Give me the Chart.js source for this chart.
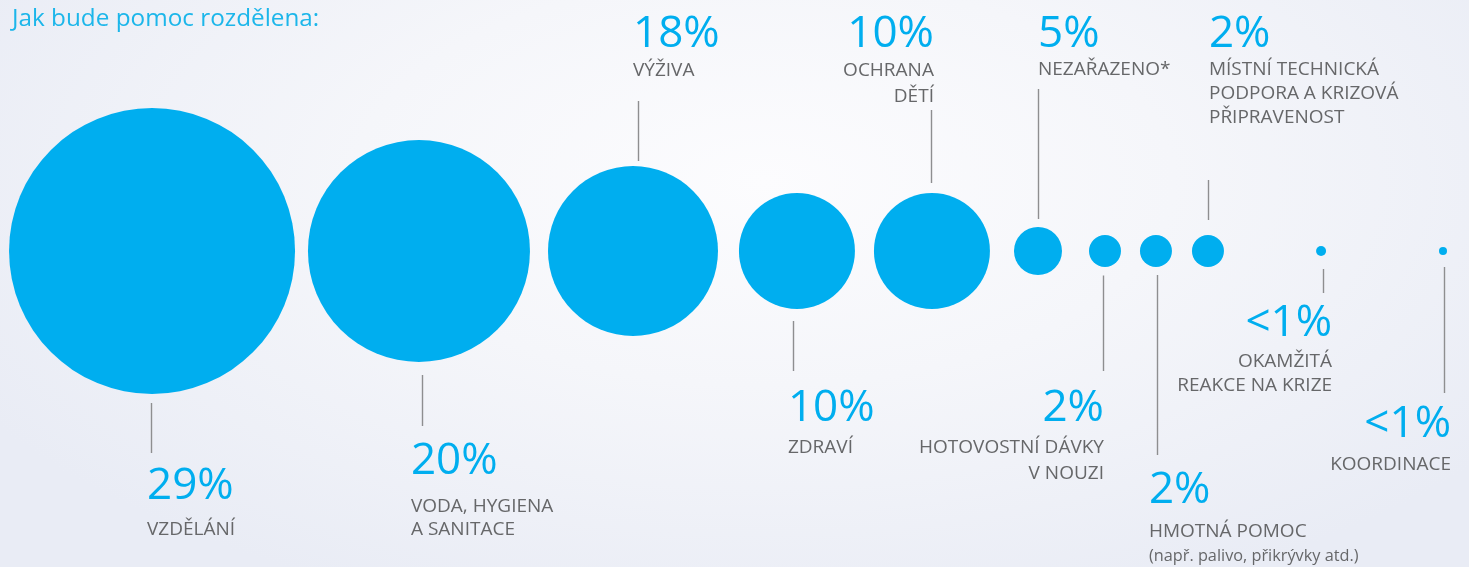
<!DOCTYPE html>
<html lang="cs">
<head>
<meta charset="utf-8">
<title>Jak bude pomoc rozdělena</title>
<script src="https://cdn.jsdelivr.net/npm/chart.js@4.4.1/dist/chart.umd.min.js"></script>
<style>
  html, body { margin: 0; padding: 0; width: 1469px; height: 567px; overflow: hidden; }
  body {
    background: radial-gradient(ellipse 62% 80% at 52% 32%, #fcfcfe 0%, #f5f6fa 45%, #e9ecf5 100%);
  }
  #wrap { position: relative; width: 1469px; height: 567px; }
  canvas { display: block; }
</style>
</head>
<body>
<div id="wrap"><canvas id="c" width="1469" height="567"></canvas></div>
<script>
// ---------- DATA ----------
const titleText = 'Jak bude pomoc rozdělena:';
const categories = [
  ['VZDĚLÁNÍ'],
  ['VODA, HYGIENA', 'A SANITACE'],
  ['VÝŽIVA'],
  ['ZDRAVÍ'],
  ['OCHRANA', 'DĚTÍ'],
  ['NEZAŘAZENO*'],
  ['HOTOVOSTNÍ DÁVKY', 'V NOUZI'],
  ['HMOTNÁ POMOC'],
  ['MÍSTNÍ TECHNICKÁ', 'PODPORA A KRIZOVÁ', 'PŘIPRAVENOST'],
  ['OKAMŽITÁ', 'REAKCE NA KRIZE'],
  ['KOORDINACE']
];
const notes = ['', '', '', '', '', '', '', '(např. palivo, přikrývky atd.)', '', '', ''];
const shareLabels = ['29%', '20%', '18%', '10%', '10%', '5%', '2%', '2%', '2%', '<1%', '<1%'];
// position of each bubble along the strip (axis units 0–100)
const stripPosition = [10.35, 28.52, 43.09, 54.25, 63.44, 70.66, 75.22, 78.69, 82.23, 89.93, 98.23];
// bubble size dimension (radius)
const bubbleSize = [143, 111, 85, 58, 58, 24, 16, 16, 16, 5, 4];

// ---------- LABEL LAYOUT (relative to each bubble centre) ----------
// align: text alignment; dx: text anchor offset; lx: leader x offset;
// l1/l2: leader start/end (y offset); py: percent baseline; ly: label baselines; ny: note baseline
const labelLayout = [
  { align: 'left',  dx: -5,  lx: -1,  l1: 152,  l2: 202,  py: 248,    ly: [284] },
  { align: 'left',  dx: -8,  lx: 3,   l1: 124,  l2: 175,  py: 223,    ly: [260.5, 284] },
  { align: 'left',  dx: 0,   lx: 5,   l1: -150, l2: -90,  py: -204.5, ly: [-175] },
  { align: 'left',  dx: -9,  lx: -4,  l1: 70,   l2: 120,  py: 170,    ly: [202] },
  { align: 'right', dx: 2,   lx: -1,  l1: -141, l2: -68,  py: -204.5, ly: [-175, -149] },
  { align: 'left',  dx: 0,   lx: 0,   l1: -162, l2: -32,  py: -204.5, ly: [-176] },
  { align: 'right', dx: -1,  lx: -1.5,l1: 24.5, l2: 120,  py: 170,    ly: [202, 228] },
  { align: 'left',  dx: -7,  lx: 1,   l1: 24,   l2: 204,  py: 252,    ly: [285.5], ny: 310 },
  { align: 'left',  dx: 1,   lx: 0,   l1: -71,  l2: -31,  py: -204.5, ly: [-176, -152, -128] },
  { align: 'right', dx: 11,  lx: 1.5, l1: 18,   l2: 42,   py: 85,     ly: [115.5, 139.5] },
  { align: 'right', dx: 8,   lx: 1,   l1: 16,   l2: 142,  py: 185.5,  ly: [219] }
];

const COLORS = {
  bubble: '#00aeef',
  pct: '#00aeef',
  title: '#1cb6ea',
  label: '#666769',
  leader: '#8e8e90'
};
const FONTS = {
  title: '400 24.3px "Open Sans"',
  pct: '400 44px "Open Sans"',
  label: '400 19px "Open Sans"',
  note: '400 16.3px "Open Sans"'
};

const labelPlugin = {
  id: 'bubbleLabels',
  afterDatasetsDraw(chart) {
    const ctx = chart.ctx;
    const meta = chart.getDatasetMeta(0);
    ctx.save();
    // title
    ctx.font = FONTS.title;
    ctx.fillStyle = COLORS.title;
    ctx.textAlign = 'left';
    ctx.textBaseline = 'alphabetic';
    ctx.fillText(titleText, 12, 26);

    meta.data.forEach((el, i) => {
      const L = labelLayout[i];
      const cx = el.x, cy = el.y;
      // leader line
      ctx.strokeStyle = COLORS.leader;
      ctx.lineWidth = 1.4;
      ctx.beginPath();
      ctx.moveTo(Math.round(cx + L.lx) + 0.5, cy + L.l1);
      ctx.lineTo(Math.round(cx + L.lx) + 0.5, cy + L.l2);
      ctx.stroke();

      const tx = cx + L.dx;
      ctx.textAlign = L.align;
      ctx.textBaseline = 'alphabetic';
      ctx.font = FONTS.pct;
      ctx.fillStyle = COLORS.pct;
      ctx.fillText(shareLabels[i], tx, cy + L.py);

      ctx.font = FONTS.label;
      ctx.fillStyle = COLORS.label;
      categories[i].forEach((line, k) => {
        ctx.fillText(line, tx, cy + L.ly[k]);
      });
      if (notes[i]) {
        ctx.font = FONTS.note;
        ctx.fillText(notes[i], tx, cy + L.ny);
      }
    });
    ctx.restore();
  }
};

function build() {
  new Chart(document.getElementById('c'), {
    type: 'bubble',
    data: {
      labels: categories.map(c => c.join(' ')),
      datasets: [{
        label: 'Podíl pomoci',
        data: stripPosition.map((x, i) => ({ x: x, y: 0, r: bubbleSize[i] })),
        backgroundColor: COLORS.bubble,
        borderWidth: 0,
        hoverRadius: 0,
        clip: false
      }]
    },
    options: {
      responsive: false,
      animation: false,
      devicePixelRatio: 1,
      events: [],
      layout: { autoPadding: false, padding: { top: 0, bottom: 65, left: 0, right: 0 } },
      scales: {
        x: { type: 'linear', min: 0, max: 100, display: false },
        y: { type: 'linear', min: -1, max: 1, display: false }
      },
      plugins: {
        legend: { display: false },
        tooltip: { enabled: false },
        title: { display: false }
      }
    },
    plugins: [labelPlugin]
  });
}

if (document.fonts && document.fonts.load) {
  Promise.all([
    document.fonts.load(FONTS.pct),
    document.fonts.load(FONTS.label)
  ]).then(build, build);
} else {
  build();
}
</script>
</body>
</html>
